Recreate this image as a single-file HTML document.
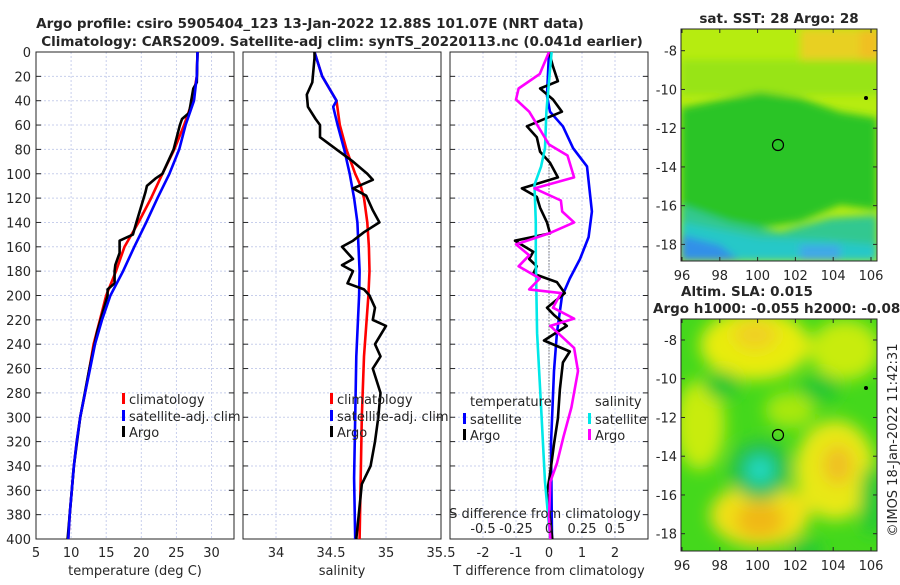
<!DOCTYPE html>
<html><head><meta charset="utf-8"><style>
html,body{margin:0;padding:0;background:#fff;}
svg text{font-family:"DejaVu Sans","Liberation Sans",sans-serif;fill:#262626;}
</style></head><body>
<svg id="fig" width="900" height="580" viewBox="0 0 900 580" xmlns="http://www.w3.org/2000/svg">
<defs>
<filter id="blur4" x="-30%" y="-30%" width="160%" height="160%"><feGaussianBlur stdDeviation="4"/></filter>
<filter id="blur8" x="-40%" y="-40%" width="180%" height="180%"><feGaussianBlur stdDeviation="8"/></filter>
<clipPath id="clipTop"><rect x="681" y="29" width="196" height="232"/></clipPath>
<clipPath id="clipBot"><rect x="681" y="319" width="196" height="232"/></clipPath>
<clipPath id="clipP1"><rect x="36" y="52" width="198" height="487"/></clipPath>
<clipPath id="clipP2"><rect x="243" y="52" width="198" height="487"/></clipPath>
<clipPath id="clipP3"><rect x="450" y="52" width="198" height="487"/></clipPath>
</defs>
<text x="310" y="28" text-anchor="middle" font-size="13.5" font-weight="bold">Argo profile: csiro 5905404_123 13-Jan-2022 12.88S 101.07E (NRT data)</text>
<text x="342" y="46" text-anchor="middle" font-size="13.5" font-weight="bold">Climatology: CARS2009. Satellite-adj clim: synTS_20220113.nc (0.041d earlier)</text>
<g id="p1"></g>
<g id="p2"></g>
<g id="p3"></g>

<!-- SST map -->
<g clip-path="url(#clipTop)">
<rect x="681" y="29" width="196" height="232" fill="#b6ec10"/>
<g filter="url(#blur4)">
<rect x="800" y="29" width="80" height="40" fill="#e8d020"/>
<rect x="860" y="29" width="20" height="60" fill="#f0c020"/>
<rect x="681" y="60" width="200" height="35" fill="#98e418"/>
<path d="M681,108 L720,100 L760,92 L800,98 L840,112 L877,118 L877,210 L840,205 L800,222 L760,228 L720,222 L681,212 Z" fill="#2cc428"/>
<path d="M681,205 L730,222 L780,232 L830,218 L877,215 L877,261 L681,261 Z" fill="#30c890"/>
<path d="M681,222 L720,230 L760,238 L820,240 L877,245 L877,261 L681,261 Z" fill="#28c8c8"/>
<path d="M681,235 L720,245 L740,261 L681,261 Z" fill="#3090e8"/>
<rect x="800" y="245" width="40" height="16" fill="#40a8e8"/>
</g>
</g>
<rect x="681" y="29" width="196" height="232" fill="none" stroke="#262626" stroke-width="1"/>
<circle cx="778" cy="145" r="5.5" fill="none" stroke="#000" stroke-width="1.2"/>
<circle cx="866" cy="98" r="2" fill="#000"/>
<text x="779" y="23" text-anchor="middle" font-size="13.5" font-weight="bold">sat. SST: 28 Argo: 28</text>

<!-- SLA map -->
<g clip-path="url(#clipBot)">
<rect x="681" y="319" width="196" height="232" fill="#44d81c"/>
<g filter="url(#blur8)">
<ellipse cx="755" cy="345" rx="55" ry="35" fill="#e8ec10"/>
<ellipse cx="755" cy="335" rx="22" ry="15" fill="#f0d020"/>
<ellipse cx="845" cy="350" rx="35" ry="30" fill="#c8ec10"/>
<ellipse cx="700" cy="425" rx="25" ry="45" fill="#c8ec10"/>
<ellipse cx="790" cy="410" rx="25" ry="18" fill="#a8e810"/>
<ellipse cx="760" cy="515" rx="50" ry="32" fill="#f0e018"/>
<ellipse cx="760" cy="520" rx="24" ry="18" fill="#f0b818"/>
<ellipse cx="835" cy="470" rx="40" ry="50" fill="#e8e818"/>
<ellipse cx="838" cy="465" rx="15" ry="20" fill="#f0c020"/>
<ellipse cx="760" cy="470" rx="30" ry="30" fill="#28c050"/>
<ellipse cx="760" cy="470" rx="14" ry="14" fill="#20d8c0"/>
<ellipse cx="722" cy="385" rx="18" ry="14" fill="#20c830"/>
<ellipse cx="820" cy="388" rx="20" ry="14" fill="#20c830"/>
<ellipse cx="872" cy="500" rx="12" ry="35" fill="#20c838"/>
<ellipse cx="805" cy="550" rx="18" ry="10" fill="#20c838"/>
</g>
</g>
<rect x="681" y="319" width="196" height="232" fill="none" stroke="#262626" stroke-width="1"/>
<circle cx="778" cy="435" r="5.5" fill="none" stroke="#000" stroke-width="1.2"/>
<circle cx="866" cy="388" r="2" fill="#000"/>
<text x="681" y="296" font-size="13.5" font-weight="bold">Altim. SLA: 0.015</text>
<text x="653" y="313" font-size="13.5" font-weight="bold">Argo h1000: -0.055 h2000: -0.086</text>
<g id="mapAxes"></g>
<text transform="translate(897,440) rotate(-90)" text-anchor="middle" font-size="13">©IMOS 18-Jan-2022 11:42:31</text>
</svg>
<script>
// ---------- data ----------
const depthTicks = [0,20,40,60,80,100,120,140,160,180,200,220,240,260,280,300,320,340,360,380,400];
const tempTickLabels = [5,10,15,20,25,30];
const salTickLabels = [34,34.5,35,35.5];
const tdiffTickLabels = [-2,-1,0,1,2];
const sdiffTickLabels = [-0.5,-0.25,0,0.25,0.5];

const tClimDepth = [0,20,40,60,80,100,120,140,160,180,200,220,240,260,280,300,320,340,360,380,400];
const tClim = [28,27.9,27.3,26.1,24.7,23,21.4,19.6,17.6,16.4,15,14.1,13.2,12.6,12,11.3,10.8,10.4,10.1,9.8,9.6];
const tSatDepth = tClimDepth;
const tSat = [28,27.9,27.5,26.3,25.4,24,22.3,20.7,19,17.4,15.6,14.4,13.4,12.7,12,11.3,10.8,10.4,10.1,9.8,9.6];
const tArgoDepth = [0,25,30,50,55,60,80,100,104,110,115,140,150,155,165,175,180,190,195,200,230,260,300,340,400];
const tArgo = [28,27.9,27.4,26.8,25.8,25.5,24.6,23,22,20.8,20.6,19.3,18.8,16.9,16.9,16.3,16.2,16.2,15.2,15.2,13.7,12.6,11.3,10.4,9.5];

const sClimDepth = [0,20,40,60,80,100,110,120,140,160,180,200,250,300,350,400];
const sClim = [34.35,34.42,34.55,34.58,34.64,34.72,34.77,34.8,34.83,34.845,34.85,34.84,34.8,34.78,34.77,34.76];
const sSatDepth = [0,20,40,45,60,80,100,120,140,180,200,250,300,350,400];
const sSat = [34.35,34.42,34.55,34.52,34.56,34.62,34.67,34.71,34.74,34.76,34.755,34.73,34.72,34.71,34.72];
const sArgoDepth = [0,5,25,35,45,55,60,70,80,90,100,105,112,118,130,140,148,155,160,170,175,180,190,195,200,210,220,225,240,250,260,280,300,320,340,355,400];
const sArgo = [34.35,34.35,34.33,34.28,34.29,34.36,34.4,34.4,34.55,34.7,34.83,34.88,34.7,34.82,34.88,34.94,34.8,34.7,34.6,34.7,34.6,34.7,34.65,34.8,34.85,34.9,34.88,35.0,34.9,34.95,34.88,34.95,34.93,34.9,34.86,34.78,34.73];

const dTSatDepth = [0,36,49,61,79,94,131,152,170,186,201,231,262,322,400];
const dTSat = [0,-0.06,0.03,0.42,0.73,1.15,1.3,1.2,0.94,0.63,0.39,0.24,0.15,0.06,0.09];
const dTArgoDepth = [0,12,24,30,39,49,61,70,82,91,103,112,119,128,140,149,155,164,170,176,182,189,198,210,216,225,237,246,255,277,301,322,347,362,383,400];
const dTArgo = [0,0.12,0.27,-0.27,0.12,0.39,-0.67,-0.37,-0.27,0.03,0.27,-0.82,-0.37,-0.27,-0.06,0.03,-1.03,-0.48,-0.6,-0.37,-0.48,0.24,0.48,-0.06,0.15,0.54,-0.15,0.63,0.42,0.33,0.27,0.15,0.03,-0.06,0.03,0.1];
const dSSatDepth = [0,24,49,79,94,109,140,170,231,292,353,389,400];
const dSSat = [0.02,0.0,-0.02,-0.03,-0.06,-0.11,-0.1,-0.1,-0.09,-0.06,-0.03,0,0.01];
const dSArgoDepth = [0,18,30,39,49,58,76,85,103,112,122,131,140,149,158,167,176,186,195,198,210,219,225,243,262,292,316,338,353,383,400];
const dSArgo = [0,-0.07,-0.23,-0.25,-0.15,-0.1,0,0.14,0.19,-0.11,0.09,0.1,0.19,0,-0.25,-0.15,-0.23,-0.07,-0.15,0.09,0.03,0.19,0.01,0.19,0.22,0.17,0.11,0.06,0.01,0,0.01];

const latTicks = [-8,-10,-12,-14,-16,-18];
const lonTicks = [96,98,100,102,104,106];

// ---------- helpers ----------
const NS='http://www.w3.org/2000/svg';
const Y0=52, Y1=539;
function yD(d){return Y0+(d/400)*(Y1-Y0);}
function mk(tag,attrs,parent){const e=document.createElementNS(NS,tag);for(const k in attrs)e.setAttribute(k,attrs[k]);parent.appendChild(e);return e;}
function xs(x0,x1,v0,v1){return v=>x0+(v-v0)/(v1-v0)*(x1-x0);}

function frame(g,x0,x1,xTickVals,xFn,labelVals,labelFn,showY){
  depthTicks.forEach(d=>{
    const l=mk('line',{x1:x0,x2:x1,y1:yD(d),y2:yD(d),stroke:'#c8cfec','stroke-width':1,'stroke-dasharray':'2,2'},g);
    
    
    const t1=mk('line',{x1:x0,x2:x0+5,y1:yD(d),y2:yD(d),stroke:'#262626'},g);
    
    
    const t2=mk('line',{x1:x1-5,x2:x1,y1:yD(d),y2:yD(d),stroke:'#262626'},g);
    
    
    if(showY){
      const t=mk('text',{x:x0-5,y:yD(d)+5,'text-anchor':'end','font-size':13},g);
      t.textContent=d;
      
      
    }
  });
  xTickVals.forEach(v=>{
    const x=xFn(v);
    if(x<=x0+1||x>=x1-1)return;
    const l=mk('line',{x1:x,x2:x,y1:Y0,y2:Y1,stroke:'#c8cfec','stroke-width':1,'stroke-dasharray':'2,2'},g);
    
    
  });
  labelVals.forEach(v=>{
    const x=labelFn(v);
    const t=mk('text',{x:x,y:557,'text-anchor':'middle','font-size':13},g);
    t.textContent=v;
    
    
  });
  const r=mk('rect',{x:x0,y:Y0,width:x1-x0,height:Y1-Y0,fill:'none',stroke:'#262626','stroke-width':1},g);
  
  
}
function line(g,vals,depths,xFn,color,name,clip){
  const pts=vals.map((v,i)=>xFn(v).toFixed(1)+','+yD(depths[i]).toFixed(1)).join(' ');
  const p=mk('polyline',{points:pts,fill:'none',stroke:color,'stroke-width':2.6,'stroke-linejoin':'round','clip-path':clip},g);
  
  
}
function legend(g,x,y,color,label,name){
  const r=mk('rect',{x:x,y:y-9,width:3,height:11,fill:color},g);
  
  
  const t=mk('text',{x:x+7,y:y+2,'font-size':13},g);
  t.textContent=label;
  
  
}
function txt(g,x,y,s,name,anchor){
  const t=mk('text',{x:x,y:y,'text-anchor':anchor||'middle','font-size':13},g);
  t.textContent=s;
  
  
}

// ---------- panel 1 ----------
const g1=document.getElementById('p1');
const xT=xs(36,234,5,33.2);
frame(g1,36,234,tempTickLabels,xT,tempTickLabels,xT,true);
line(g1,tClim,tClimDepth,xT,'#ff0000','temp-climatology-line','url(#clipP1)');
line(g1,tArgo,tArgoDepth,xT,'#000000','temp-argo-line','url(#clipP1)');
line(g1,tSat,tSatDepth,xT,'#0000ff','temp-satellite-line','url(#clipP1)');
legend(g1,122,402,'#ff0000','climatology','legend-climatology');
legend(g1,122,419,'#0000ff','satellite-adj. clim','legend-satellite');
legend(g1,122,435,'#000000','Argo','legend-argo');
txt(g1,135,575,'temperature (deg C)','x-axis-title-temperature');

// ---------- panel 2 ----------
const g2=document.getElementById('p2');
const xS=xs(243,441,33.7,35.5);
frame(g2,243,441,salTickLabels,xS,salTickLabels,xS,false);
line(g2,sClim,sClimDepth,xS,'#ff0000','sal-climatology-line','url(#clipP2)');
line(g2,sSat,sSatDepth,xS,'#0000ff','sal-satellite-line','url(#clipP2)');
line(g2,sArgo,sArgoDepth,xS,'#000000','sal-argo-line','url(#clipP2)');
legend(g2,330,402,'#ff0000','climatology','legend-climatology');
legend(g2,330,419,'#0000ff','satellite-adj. clim','legend-satellite');
legend(g2,330,435,'#000000','Argo','legend-argo');
txt(g2,342,575,'salinity','x-axis-title-salinity');

// ---------- panel 3 ----------
const g3=document.getElementById('p3');
const xDT=xs(450,648,-3,3);
const xDS=xs(450,648,-0.75,0.75);
frame(g3,450,648,tdiffTickLabels,xDT,tdiffTickLabels,xDT,false);
const zl=mk('line',{x1:xDT(0),x2:xDT(0),y1:yD(75),y2:Y1,stroke:'#333','stroke-width':1,'stroke-dasharray':'1,2'},g3);


line(g3,dTSat,dTSatDepth,xDT,'#0000ff','tdiff-satellite-line','url(#clipP3)');
line(g3,dTArgo,dTArgoDepth,xDT,'#000000','tdiff-argo-line','url(#clipP3)');
line(g3,dSSat,dSSatDepth,xDS,'#00e8e8','sdiff-satellite-line','url(#clipP3)');
line(g3,dSArgo,dSArgoDepth,xDS,'#ff00ff','sdiff-argo-line','url(#clipP3)');
txt(g3,470,406,'temperature','legend-temperature-header','start');
legend(g3,463,422,'#0000ff','satellite','legend-t-satellite');
legend(g3,463,438,'#000000','Argo','legend-t-argo');
txt(g3,595,406,'salinity','legend-salinity-header','start');
legend(g3,588,422,'#00e8e8','satellite','legend-s-satellite');
legend(g3,588,438,'#ff00ff','Argo','legend-s-argo');
txt(g3,545,518,'S difference from climatology','s-axis-title');
sdiffTickLabels.forEach(v=>txt(g3,xDS(v),533,String(v),'s-tick-label'));
txt(g3,549,575,'T difference from climatology','x-axis-title-tdiff');

// ---------- map axes ----------
const ga=document.getElementById('mapAxes');
const xLon=xs(682,871,96,106);
[[29,261,50.7],[319,551,340]].forEach(([top,bot,y8],k)=>{
  const yLat=lat=>y8+(-8-lat)*19.37;
  latTicks.forEach(l=>{
    const y=yLat(l);
    mk('line',{x1:681,x2:685,y1:y,y2:y,stroke:'#262626'},ga);
    mk('line',{x1:873,x2:877,y1:y,y2:y,stroke:'#262626'},ga);
    txt(ga,677,y+5,String(l),'lat-tick-label','end');
  });
  lonTicks.forEach(l=>{
    const x=xLon(l);
    mk('line',{x1:x,x2:x,y1:bot-4,y2:bot,stroke:'#262626'},ga);
    mk('line',{x1:x,x2:x,y1:top,y2:top+4,stroke:'#262626'},ga);
    txt(ga,x,bot+19,String(l),'lon-tick-label');
  });
});
</script>
</body></html>
